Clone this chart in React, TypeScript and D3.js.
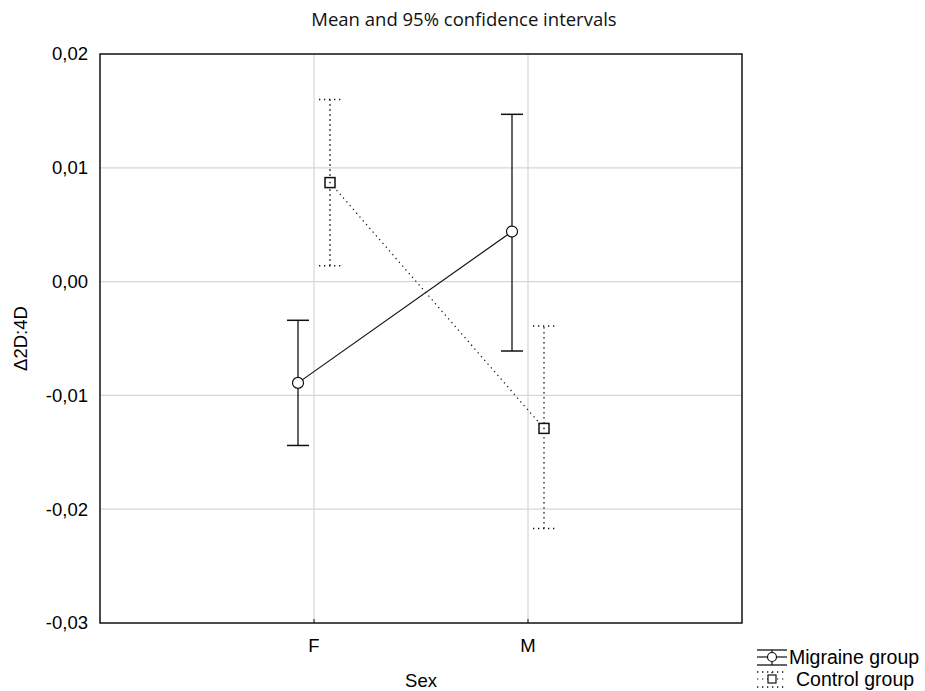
import { useEffect, useRef } from "react"
import * as d3 from "d3"

// categories on the x axis
const categories = ["F", "M"]

// Migraine group: mean and 95% CI
const migraineMean = [-0.0089, 0.0044]
const migraineLow = [-0.0144, -0.0061]
const migraineHigh = [-0.0034, 0.0147]

// Control group: mean and 95% CI
const controlMean = [0.0087, -0.0129]
const controlLow = [0.0014, -0.0217]
const controlHigh = [0.016, -0.0039]

const yTicks = [0.02, 0.01, 0, -0.01, -0.02, -0.03]

const FONT = "'Liberation Sans', Arial, sans-serif"

export default function App() {
  const svgRef = useRef<SVGSVGElement | null>(null)

  useEffect(() => {
    const svg = d3.select(svgRef.current)
    svg.selectAll("*").remove()

    const width = 925
    const height = 691
    const margin = { left: 100, right: 183, top: 54, bottom: 68 }
    const innerW = width - margin.left - margin.right
    const innerH = height - margin.top - margin.bottom

    // category centres sit at 1/3 and 2/3 of the plot width
    const xp = d3.scalePoint<string>().domain(categories).range([innerW / 3, (2 * innerW) / 3])
    const y = d3.scaleLinear().domain([-0.03, 0.02]).range([innerH, 0])
    const fmt = (v: number) => d3.format(".2f")(v).replace(".", ",").replace("−", "-")

    svg.attr("width", width).attr("height", height)

    svg.append("text")
      .attr("x", 464)
      .attr("y", 26)
      .attr("text-anchor", "middle")
      .attr("font-family", "'Open Sans', sans-serif")
      .attr("font-size", 18.5)
      .attr("fill", "#111")
      .text("Mean and 95% confidence intervals")

    const g = svg.append("g").attr("transform", `translate(${margin.left},${margin.top})`)

    // grid
    g.selectAll(".hgrid")
      .data(yTicks.slice(1, -1))
      .join("line")
      .attr("x1", 0).attr("x2", innerW)
      .attr("y1", d => y(d)).attr("y2", d => y(d))
      .attr("stroke", "#d6d6d6").attr("stroke-width", 1.2)
    g.selectAll(".vgrid")
      .data(categories)
      .join("line")
      .attr("x1", d => xp(d) as number).attr("x2", d => xp(d) as number)
      .attr("y1", 0).attr("y2", innerH)
      .attr("stroke", "#d6d6d6").attr("stroke-width", 1.2)

    // frame
    g.append("rect")
      .attr("width", innerW).attr("height", innerH)
      .attr("fill", "none").attr("stroke", "#111").attr("stroke-width", 1.5)

    // y tick labels
    g.selectAll(".ylab")
      .data(yTicks)
      .join("text")
      .attr("x", -12)
      .attr("y", d => y(d))
      .attr("dy", "0.35em")
      .attr("text-anchor", "end")
      .attr("font-family", FONT)
      .attr("font-size", 18.5)
      .text(d => fmt(d))

    // x ticks and labels
    g.selectAll(".xtick")
      .data(categories)
      .join("line")
      .attr("x1", d => xp(d) as number).attr("x2", d => xp(d) as number)
      .attr("y1", innerH - 4).attr("y2", innerH)
      .attr("stroke", "#111")
    g.selectAll(".xlab")
      .data(categories)
      .join("text")
      .attr("x", d => xp(d) as number)
      .attr("y", innerH + 29)
      .attr("text-anchor", "middle")
      .attr("font-family", FONT)
      .attr("font-size", 18.5)
      .text(d => d)

    g.append("text")
      .attr("x", innerW / 2)
      .attr("y", innerH + 64)
      .attr("text-anchor", "middle")
      .attr("font-family", FONT)
      .attr("font-size", 18.5)
      .text("Sex")

    g.append("text")
      .attr("transform", `translate(${-73},${innerH / 2}) rotate(-90)`)
      .attr("text-anchor", "middle")
      .attr("font-family", FONT)
      .attr("font-size", 18.5)
      .text("Δ2D:4D")

    const series = [
      { mean: migraineMean, low: migraineLow, high: migraineHigh, off: -16, dash: null as string | null, marker: "circle" },
      { mean: controlMean, low: controlLow, high: controlHigh, off: 16, dash: "1.3,3.7", marker: "square" },
    ]

    series.forEach(s => {
      const px = (i: number) => (xp(categories[i]) as number) + s.off
      const line = d3.line<number>().x((_, i) => px(i)).y(d => y(d))
      const sg = g.append("g")
      sg.append("path")
        .attr("d", line(s.mean))
        .attr("fill", "none").attr("stroke", "#111").attr("stroke-width", 1.2)
        .attr("stroke-dasharray", s.dash)

      categories.forEach((_, i) => {
        const cx = px(i)
        sg.append("line")
          .attr("x1", cx).attr("x2", cx)
          .attr("y1", y(s.low[i])).attr("y2", y(s.high[i]))
          .attr("stroke", "#111").attr("stroke-width", s.dash ? 1.5 : 1.3)
          .attr("stroke-dasharray", s.dash)
        ;[s.low[i], s.high[i]].forEach(v => {
          sg.append("line")
            .attr("x1", cx - 11).attr("x2", cx + 11)
            .attr("y1", y(v)).attr("y2", y(v))
            .attr("stroke", "#111").attr("stroke-width", 1.5)
            .attr("stroke-dasharray", s.dash)
        })
        if (s.marker === "circle") {
          sg.append("circle")
            .attr("cx", cx).attr("cy", y(s.mean[i])).attr("r", 5.5)
            .attr("fill", "white").attr("stroke", "#111").attr("stroke-width", 1.2)
        } else {
          sg.append("rect")
            .attr("x", cx - 5).attr("y", y(s.mean[i]) - 5)
            .attr("width", 10).attr("height", 10)
            .attr("fill", "white").attr("stroke", "#111").attr("stroke-width", 1.5)
          sg.append("circle")
            .attr("cx", cx).attr("cy", y(s.mean[i])).attr("r", 0.8).attr("fill", "#111")
        }
      })
    })

    // legend
    const lg = svg.append("g").attr("transform", "translate(757,657)")
    const items = [
      { name: "Migraine group", dash: null as string | null, marker: "circle" },
      { name: "Control group", dash: "1.3,3.7", marker: "square" },
    ]
    items.forEach((it, i) => {
      const yy = i * 22
      const ig = lg.append("g").attr("transform", `translate(0,${yy})`)
      ;[-7, 0, 8].forEach(dy => {
        ig.append("line")
          .attr("x1", 0).attr("x2", 30).attr("y1", dy).attr("y2", dy)
          .attr("stroke", "#111").attr("stroke-width", dy === 0 ? 1.2 : 1.3)
          .attr("stroke-dasharray", it.dash)
      })
      ig.append("line")
        .attr("x1", 15).attr("x2", 15).attr("y1", -7).attr("y2", 8)
        .attr("stroke", "#111").attr("stroke-width", 1.2)
        .attr("stroke-dasharray", it.dash)
      if (it.marker === "circle") {
        ig.append("circle").attr("cx", 15).attr("cy", 0).attr("r", 4.5)
          .attr("fill", "white").attr("stroke", "#111").attr("stroke-width", 1.2)
      } else {
        ig.append("rect").attr("x", 11).attr("y", -4).attr("width", 8).attr("height", 8)
          .attr("fill", "white").attr("stroke", "#111").attr("stroke-width", 1.2)
      }
      ig.append("text")
        .attr("x", i === 0 ? 32 : 39)
        .attr("y", 0)
        .attr("dy", "0.35em")
        .attr("font-family", FONT)
        .attr("font-size", 19.5)
        .text(it.name)
    })
  }, [])

  return <svg ref={svgRef} style={{ display: "block", position: "absolute", left: 0, top: 0 }} />
}
